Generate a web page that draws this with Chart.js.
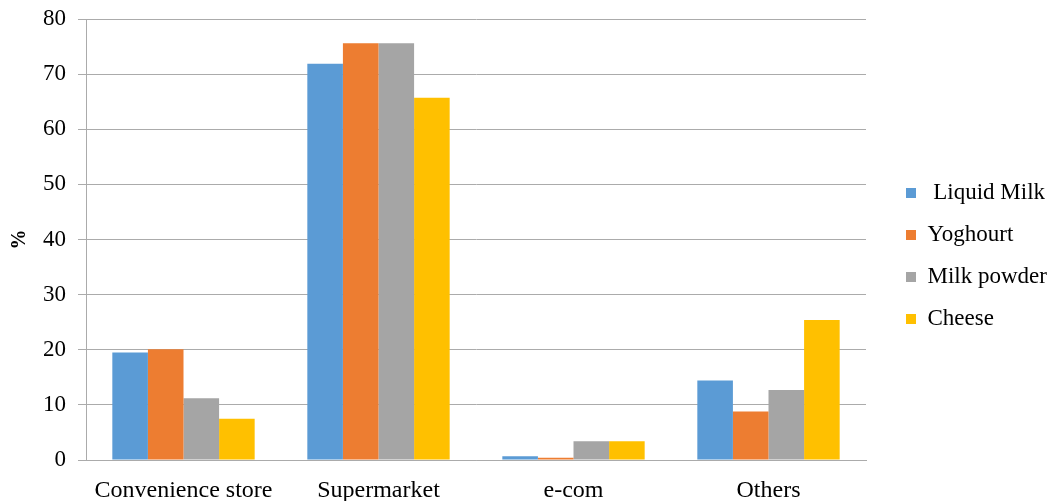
<!DOCTYPE html>
<html lang="en">
<head>
    <meta charset="UTF-8">
    <title>Dairy purchase channels</title>
    <script src="https://cdn.jsdelivr.net/npm/chart.js"></script>
    <style>
        html, body { margin: 0; padding: 0; background: #fff; }
        .chart-container { width: 1052px; height: 501px; position: relative; }
    </style>
</head>
<body>
    <div class="chart-container">
        <canvas id="channelChart"></canvas>
    </div>

    <script>
        const categories = ['Convenience store', 'Supermarket', 'e-com', 'Others'];
        const seriesNames = [' Liquid Milk', 'Yoghourt', 'Milk powder', 'Cheese'];
        const liquidMilk = [19.5, 71.9, 0.7, 14.4];
        const yoghourt = [20.1, 75.6, 0.4, 8.8];
        const milkPowder = [11.2, 75.6, 3.4, 12.7];
        const cheese = [7.5, 65.7, 3.4, 25.4];
        const seriesColors = ['#5B9BD5', '#ED7D31', '#A5A5A5', '#FFC000'];

        const gridColor = '#ababab';
        const serif = 'Liberation Serif, Times New Roman, serif';

        // legend sits in a fixed strip on the right, like the original
        const legendStrip = {
            id: 'legendStrip',
            afterInit(chart) {
                const legend = chart.legend;
                const origFit = legend.fit;
                legend.fit = function () {
                    origFit.call(this);
                    this.width = 186;
                };
            },
            afterLayout(chart) {
                chart.legend.left += 21;
                chart.legend.right += 21;
                chart.legend.top -= 4;
                chart.legend.bottom -= 4;
            }
        };

        const ctx = document.getElementById('channelChart').getContext('2d');
        new Chart(ctx, {
            type: 'bar',
            data: {
                labels: categories,
                datasets: [liquidMilk, yoghourt, milkPowder, cheese].map((values, i) => ({
                    label: seriesNames[i],
                    data: values,
                    backgroundColor: seriesColors[i],
                    categoryPercentage: 0.73,
                    barPercentage: 1.0
                }))
            },
            options: {
                responsive: true,
                maintainAspectRatio: false,
                animation: false,
                layout: { padding: { top: 19, right: 0, left: 0, bottom: 0 } },
                plugins: {
                    tooltip: { enabled: false },
                    legend: {
                        position: 'right',
                        align: 'center',
                        labels: {
                            boxWidth: 10,
                            boxHeight: 10,
                            padding: 19,
                            color: '#000',
                            font: { family: serif, size: 23 }
                        }
                    }
                },
                scales: {
                    x: {
                        grid: { display: false },
                        border: { color: gridColor },
                        ticks: {
                            color: '#000',
                            padding: 8,
                            font: { family: serif, size: 24 }
                        },
                        afterFit(scale) { scale.height = 41; }
                    },
                    y: {
                        min: 0,
                        max: 80,
                        ticks: {
                            stepSize: 10,
                            color: '#000',
                            padding: 12,
                            font: { family: serif, size: 23 }
                        },
                        grid: { color: gridColor, tickLength: 8, lineWidth: 1 },
                        border: { color: gridColor },
                        title: {
                            display: true,
                            text: '%',
                            color: '#000',
                            padding: { top: 8, bottom: 0 },
                            font: { family: serif, size: 20, weight: 'bold' }
                        },
                        afterFit(scale) {
                            scale.width = 86;
                            scale.paddingTop = 0;
                        }
                    }
                }
            },
            plugins: [legendStrip]
        });
    </script>
</body>
</html>
